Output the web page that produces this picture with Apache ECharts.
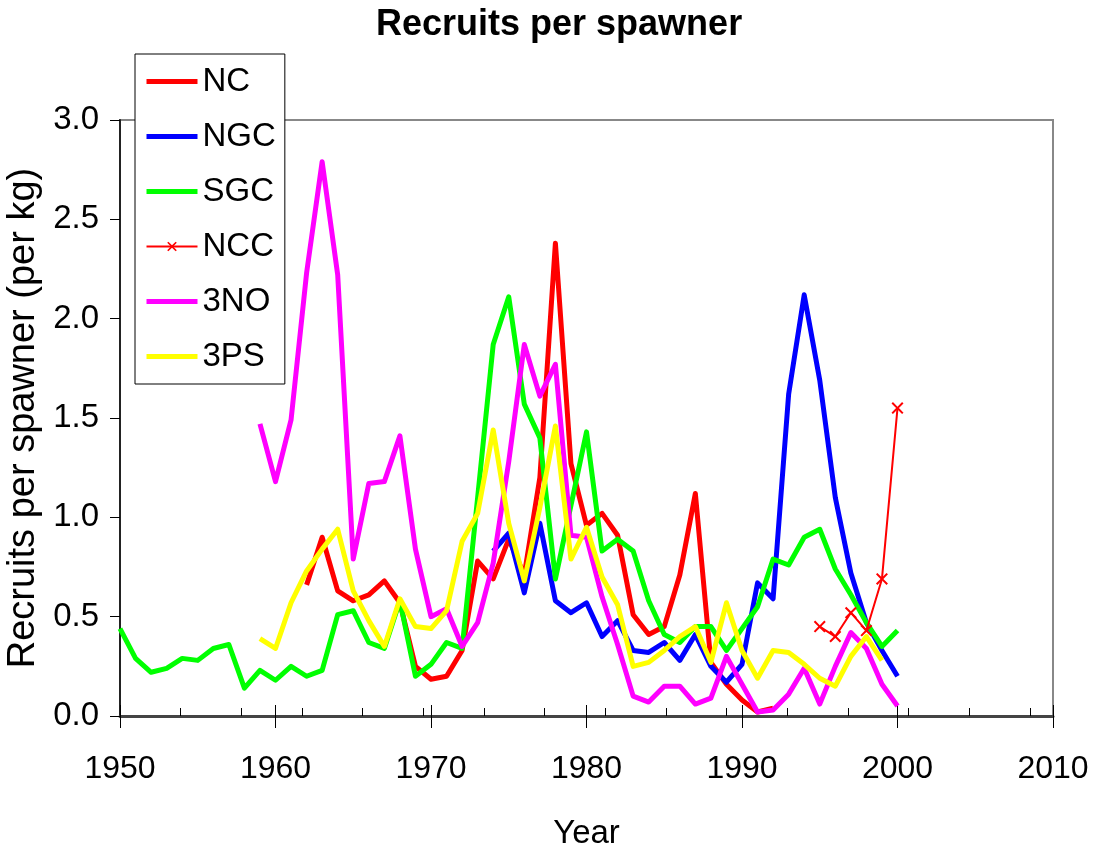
<!DOCTYPE html>
<html>
<head>
<meta charset="utf-8">
<script src="https://cdn.jsdelivr.net/npm/echarts@6/dist/echarts.min.js"></script>
<style>
  html, body { margin: 0; background: #fff; }
  #chart { width: 1098px; height: 854px; }
</style>
</head>
<body>
<div id="chart"></div>
<script>
// first year of each series + yearly values
const ncStart = 1962;
const ncValues = [0.66, 0.90, 0.63, 0.58, 0.61, 0.68, 0.57, 0.25, 0.185, 0.20,
  0.33, 0.78, 0.69, 0.89, 0.71, 1.20, 2.38, 1.27, 0.96, 1.02,
  0.91, 0.51, 0.41, 0.45, 0.71, 1.12, 0.27, 0.16, 0.08, 0.02, 0.04];

const ngcStart = 1974;
const ngcValues = [0.83, 0.92, 0.62, 0.97, 0.58, 0.52, 0.57, 0.40, 0.48, 0.33,
  0.32, 0.37, 0.28, 0.41, 0.25, 0.17, 0.26, 0.67, 0.59, 1.62,
  2.12, 1.69, 1.10, 0.72, 0.47, 0.33, 0.20];

const sgcStart = 1950;
const sgcValues = [0.44, 0.29, 0.22, 0.24, 0.29, 0.28, 0.34, 0.36, 0.14, 0.23,
  0.18, 0.25, 0.20, 0.23, 0.51, 0.53, 0.37, 0.34, 0.58, 0.20,
  0.26, 0.37, 0.34, 1.10, 1.87, 2.11, 1.57, 1.40, 0.69, 1.06,
  1.43, 0.83, 0.89, 0.83, 0.58, 0.41, 0.37, 0.45, 0.45, 0.33,
  0.44, 0.55, 0.79, 0.76, 0.90, 0.94, 0.74, 0.61, 0.47, 0.35, 0.43];

const nccStart = 1995;
const nccValues = [0.45, 0.40, 0.52, 0.43, 0.69, 1.55];

const noStart = 1959;
const noValues = [1.47, 1.18, 1.49, 2.23, 2.79, 2.22, 0.79, 1.17, 1.18, 1.41,
  0.84, 0.50, 0.54, 0.35, 0.47, 0.77, 1.28, 1.87, 1.61, 1.77,
  0.91, 0.90, 0.60, 0.36, 0.10, 0.07, 0.15, 0.15, 0.06, 0.09,
  0.30, 0.16, 0.02, 0.03, 0.11, 0.24, 0.06, 0.25, 0.42, 0.34,
  0.16, 0.05];

const psStart = 1959;
const psValues = [0.39, 0.34, 0.57, 0.73, 0.84, 0.94, 0.63, 0.48, 0.35, 0.59,
  0.45, 0.44, 0.53, 0.88, 1.02, 1.44, 0.97, 0.68, 1.05, 1.46,
  0.79, 0.95, 0.70, 0.56, 0.25, 0.27, 0.33, 0.40, 0.45, 0.27,
  0.57, 0.33, 0.19, 0.33, 0.32, 0.26, 0.19, 0.15, 0.30, 0.40, 0.28];

const seriesNames = ['NC', 'NGC', 'SGC', 'NCC', '3NO', '3PS'];
const yTicks = { min: 0, max: 3, step: 0.5 };

const font = "'Liberation Sans', Arial, sans-serif";
const cross = 'path://M0,1.2L1.2,0L5,3.8L8.8,0L10,1.2L6.2,5L10,8.8L8.8,10L5,6.2L1.2,10L0,8.8L3.8,5Z';

function pairs(start, values) {
  return values.map((v, i) => [start + i, v]);
}

function thick(name, color, start, values) {
  return {
    name: name,
    type: 'line',
    symbol: 'none',
    color: color,
    lineStyle: { width: 5, color: color, join: 'round' },
    data: pairs(start, values)
  };
}

// legend: plain line for the thick series, line + cross for NCC
const legendItems = seriesNames.map((n) => n === 'NCC'
  ? { name: n, lineStyle: { width: 2 } }
  : { name: n, lineStyle: { width: 5 }, itemStyle: { opacity: 0 } });

const chart = echarts.init(document.getElementById('chart'));
chart.setOption({
  animation: false,
  backgroundColor: '#fff',
  title: {
    text: 'Recruits per spawner',
    left: 371,
    top: 2,
    textStyle: { fontFamily: font, fontSize: 36, fontWeight: 'bold', color: '#000' }
  },
  legend: {
    orient: 'vertical',
    left: 135,
    top: 54,
    padding: [11, 9, 11, 9],
    itemGap: 22,
    itemWidth: 51,
    itemHeight: 12,
    icon: 'inherit',
    backgroundColor: '#fff',
    borderColor: '#000',
    borderWidth: 1,
    textStyle: { fontFamily: font, fontSize: 33, color: '#000' },
    data: legendItems
  },
  grid: {
    left: 120, right: 45, top: 120, bottom: 138,
    containLabel: false,
    outerBoundsMode: 'none',
    show: true,
    borderColor: '#888',
    borderWidth: 2
  },
  xAxis: [
    {
      type: 'value', min: 1950, max: 2010, interval: 10,
      name: 'Year', nameLocation: 'middle', nameGap: 101,
      nameTextStyle: { fontFamily: font, fontSize: 33, color: '#000' },
      axisLine: { lineStyle: { color: '#444', width: 3 } },
      axisTick: { length: 12, lineStyle: { color: '#000', width: 1 } },
      axisLabel: { margin: 37, fontFamily: font, fontSize: 32, color: '#000',
        formatter: (v) => String(v) },
      splitLine: { show: false }
    },
    {
      type: 'value', min: 1950, max: 2010, interval: 10, position: 'bottom',
      axisLine: { show: false },
      axisTick: { inside: true, length: 11, lineStyle: { color: '#000', width: 1 } },
      axisLabel: { show: false },
      splitLine: { show: false }
    },
    {
      type: 'value', min: 0, max: 15.38, interval: 1, position: 'bottom',
      axisLine: { show: false },
      axisTick: { inside: true, length: 8, lineStyle: { color: '#000', width: 1 } },
      axisLabel: { show: false },
      splitLine: { show: false }
    }
  ],
  yAxis: {
    type: 'value', min: yTicks.min, max: yTicks.max, interval: yTicks.step,
    name: 'Recruits per spawner (per kg)', nameLocation: 'middle', nameGap: 77,
    nameTextStyle: { fontFamily: font, fontSize: 38, color: '#000' },
    axisLine: { show: true, lineStyle: { color: '#222', width: 2 } },
    axisTick: { show: true, length: 10, lineStyle: { color: '#000', width: 1 } },
    axisLabel: { margin: 21, fontFamily: font, fontSize: 33, color: '#000',
      formatter: (v) => v.toFixed(1) },
    splitLine: { show: false }
  },
  series: [
    thick('NC', '#ff0000', ncStart, ncValues),
    thick('NGC', '#0000ff', ngcStart, ngcValues),
    thick('SGC', '#00ff00', sgcStart, sgcValues),
    {
      name: 'NCC',
      type: 'line',
      symbol: cross,
      symbolSize: 12,
      showSymbol: true,
      color: '#ff0000',
      itemStyle: { color: '#ff0000' },
      lineStyle: { width: 2, color: '#ff0000' },
      data: pairs(nccStart, nccValues)
    },
    thick('3NO', '#ff00ff', noStart, noValues),
    thick('3PS', '#ffff00', psStart, psValues)
  ]
});
</script>
</body>
</html>
